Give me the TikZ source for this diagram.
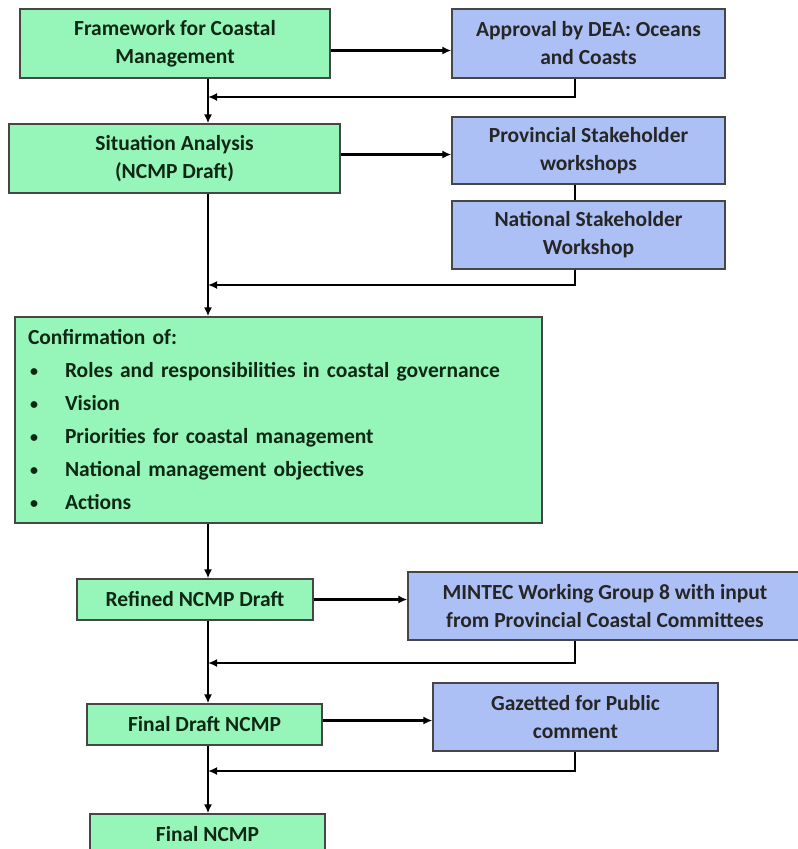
\documentclass[tikz,border=0pt]{standalone}
\usepackage{fontspec}
\setmainfont{Carlito}
\usetikzlibrary{arrows.meta}
\definecolor{boxgreen}{RGB}{150,246,186}
\definecolor{boxblue}{RGB}{172,192,246}
\definecolor{edgegray}{RGB}{70,70,70}
\definecolor{inkgreen}{RGB}{15,40,20}
\newcommand{\dotitem}{\makebox[37pt][l]{\hspace{2pt}\raisebox{1pt}{\fontsize{16}{16}\selectfont\textbullet}}}

\begin{document}
\begin{tikzpicture}[x=1pt,y=-1pt,
    stage/.style={draw=edgegray,line width=1.3pt,fill=boxgreen,align=center,text=inkgreen,
        font=\fontsize{21.5}{28}\selectfont\bfseries,inner sep=0pt},
    review/.style={stage,fill=boxblue,text=black!85},
    link/.style={line width=2.8pt},
    arrow/.style={link,-{Latex[length=9pt,width=8pt]}}]

        \clip (0,0) rectangle (798,849);
        \coordinate (spine) at (208,0);
        \coordinate (rspine) at (575,0);
        \coordinate (j1) at (208,97);
        \coordinate (j2) at (208,285);
        \coordinate (j3) at (208,663);
        \coordinate (j4) at (208,771);

        \node[stage,minimum width=310pt,minimum height=69pt] (frame) at (175,43.5) {Framework for Coastal\\Management};
        \node[review,minimum width=273pt,minimum height=69pt] (approval) at (588.5,43.5) {Approval by DEA: Oceans\\and Coasts};
        \node[stage,minimum width=331pt,minimum height=69pt] (situation) at (174.5,158.5) {Situation Analysis\\(NCMP Draft)};
        \node[review,minimum width=273pt,minimum height=67pt] (provincial) at (588.5,150.5) {Provincial Stakeholder\\workshops};
        \node[review,minimum width=273pt,minimum height=68pt] (national) at (588.5,235) {National Stakeholder\\Workshop};
        \node[stage,minimum width=527pt,minimum height=206pt,text width=501pt,align=left] (confirm) at (278.5,420) {Confirmation of:\\[5pt]
            \dotitem Roles and responsibilities in coastal governance\\[5pt]
            \dotitem Vision\\[5pt]
            \dotitem Priorities for coastal management\\[5pt]
            \dotitem National management objectives\\[5pt]
            \dotitem Actions};
        \node[stage,minimum width=236pt,minimum height=41pt] (refined) at (195,599.5) {Refined NCMP Draft};
        \node[review,minimum width=394pt,minimum height=68pt] (mintec) at (605,606) {MINTEC Working Group 8 with input\\from Provincial Coastal Committees};
        \node[stage,minimum width=235pt,minimum height=41pt] (finaldraft) at (204.5,724.5) {Final Draft NCMP};
        \node[review,minimum width=285pt,minimum height=68pt] (gazetted) at (575.5,717) {Gazetted for Public\\comment};
        \node[stage,minimum width=235pt,minimum height=41pt] (final) at (207.5,834.5) {Final NCMP};

        \draw[arrow] ([yshift=-7pt]frame.east) -- ([yshift=-7pt]approval.west);
        \draw[arrow] (approval.south -| rspine) |- (j1);
        \draw[arrow] (frame.south -| spine) -- (situation.north -| spine);
        \draw[arrow] ([yshift=4pt]situation.east) -- ([yshift=4pt]situation.east -| provincial.west);
        \draw[link] (provincial.south -| rspine) -- (national.north -| rspine);
        \draw[arrow] (national.south -| rspine) |- (j2);
        \draw[arrow] (situation.south -| spine) -- (confirm.north -| spine);
        \draw[arrow] (confirm.south -| spine) -- (refined.north -| spine);
        \draw[arrow] (refined.east) -- (refined.east -| mintec.west);
        \draw[arrow] (mintec.south -| rspine) |- (j3);
        \draw[arrow] (refined.south -| spine) -- (finaldraft.north -| spine);
        \draw[arrow] ([yshift=4pt]finaldraft.east) -- ([yshift=4pt]finaldraft.east -| gazetted.west);
        \draw[arrow] (gazetted.south -| rspine) |- (j4);
        \draw[arrow] (finaldraft.south -| spine) -- (final.north -| spine);
    \end{tikzpicture}
\end{document}
